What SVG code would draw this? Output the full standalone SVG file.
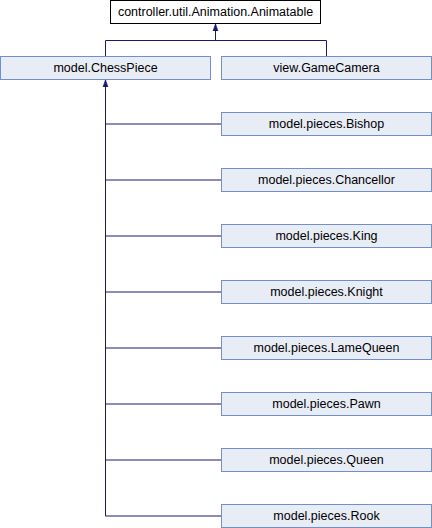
<svg xmlns="http://www.w3.org/2000/svg" width="432" height="528" viewBox="0 0 432 528">
<style>
.n rect{fill:#E8ECF5;stroke:#7190C9;stroke-width:1}
.root rect{fill:#FFFFFF;stroke:#000000;stroke-width:1}
text{font-family:"Liberation Sans",Arial,sans-serif;font-size:12.5px;text-anchor:middle;fill:#000}
.e{fill:none;stroke:#191970;stroke-width:1}
</style>
<defs>
<marker id="arr" viewBox="0 0 10 10" refX="10" refY="5" markerWidth="7" markerHeight="7" markerUnits="userSpaceOnUse" orient="auto">
<path d="M0,1.5 L10,5 L0,8.5 Z" fill="#191970" stroke="#191970"/>
</marker>
</defs>
<g id="edges">
<path class="e" d="M105.5,56 V40.5 H326.5 V56"/>
<path class="e" d="M215.5,40.5 V24" marker-end="url(#arr)"/>
<path class="e" d="M105.5,516 V80" marker-end="url(#arr)"/>
<path class="e" d="M105.5,124 H221"/>
<path class="e" d="M105.5,180 H221"/>
<path class="e" d="M105.5,236 H221"/>
<path class="e" d="M105.5,292 H221"/>
<path class="e" d="M105.5,348 H221"/>
<path class="e" d="M105.5,404 H221"/>
<path class="e" d="M105.5,460 H221"/>
<path class="e" d="M105.5,516 H221"/>
</g>
<g id="Animatable" class="root"><rect x="110.5" y="0.5" width="210" height="23"/><text x="215.5" y="16">controller.util.Animation.Animatable</text></g>
<g id="ChessPiece" class="n"><rect x="0.5" y="56.5" width="210" height="23"/><text x="105.5" y="72">model.ChessPiece</text></g>
<g id="GameCamera" class="n"><rect x="221.5" y="56.5" width="210" height="23"/><text x="326.5" y="72">view.GameCamera</text></g>
<g id="Bishop" class="n"><rect x="221.5" y="112.5" width="210" height="23"/><text x="326.5" y="128">model.pieces.Bishop</text></g>
<g id="Chancellor" class="n"><rect x="221.5" y="168.5" width="210" height="23"/><text x="326.5" y="184">model.pieces.Chancellor</text></g>
<g id="King" class="n"><rect x="221.5" y="224.5" width="210" height="23"/><text x="326.5" y="240">model.pieces.King</text></g>
<g id="Knight" class="n"><rect x="221.5" y="280.5" width="210" height="23"/><text x="326.5" y="296">model.pieces.Knight</text></g>
<g id="LameQueen" class="n"><rect x="221.5" y="336.5" width="210" height="23"/><text x="326.5" y="352">model.pieces.LameQueen</text></g>
<g id="Pawn" class="n"><rect x="221.5" y="392.5" width="210" height="23"/><text x="326.5" y="408">model.pieces.Pawn</text></g>
<g id="Queen" class="n"><rect x="221.5" y="448.5" width="210" height="23"/><text x="326.5" y="464">model.pieces.Queen</text></g>
<g id="Rook" class="n"><rect x="221.5" y="504.5" width="210" height="23"/><text x="326.5" y="520">model.pieces.Rook</text></g>
</svg>
